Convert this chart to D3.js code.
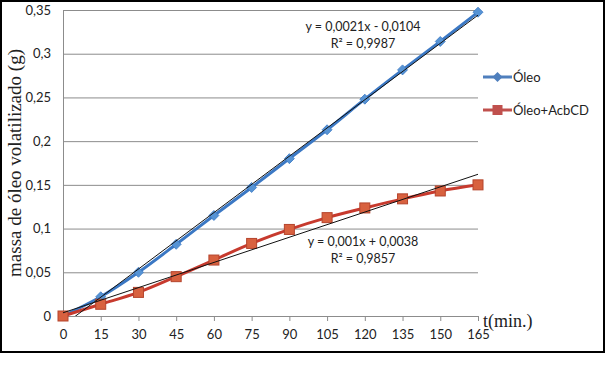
<!DOCTYPE html>
<html>
<head>
<meta charset="utf-8">
<script src="https://cdn.jsdelivr.net/npm/d3@7"></script>
<style>
  body { margin: 0; background: #fff; }
  svg text { font-family: Lato, "Open Sans", sans-serif; fill: #222; }
  .serif { font-family: "Liberation Serif", "Times New Roman", serif !important; }
  .grid line { stroke: #8c8c8c; }
</style>
</head>
<body>
<svg width="606" height="371"></svg>
<script>
// tempo (min) e massa volatilizada (g)
var tempos = [0, 15, 30, 45, 60, 75, 90, 105, 120, 135, 150, 165];
var oleo = [0, 0.022, 0.050, 0.082, 0.115, 0.147, 0.180, 0.213, 0.248, 0.2815, 0.314, 0.3475];
var oleoAcbCD = [0, 0.0134, 0.027, 0.045, 0.064, 0.083, 0.099, 0.1125, 0.1236, 0.134, 0.143, 0.150];
var yTicks = [0, 0.05, 0.1, 0.15, 0.2, 0.25, 0.3, 0.35];
var seriesNames = ["Óleo", "Óleo+AcbCD"];
var equations = [["y = 0,0021x - 0,0104", "R² = 0,9987"], ["y = 0,001x + 0,0038", "R² = 0,9857"]];

var svg = d3.select("svg"),
    margin = {top: 10, left: 63},
    width = 415,
    height = 306;

var fmt = function(d) { return d === 0 ? "0" : String(d).replace(".", ","); };

var x = d3.scaleLinear().domain([0, 165]).range([0, width]),
    y = d3.scaleLinear().domain([0, 0.35]).range([height, 0]);

// moldura
svg.append("rect")
    .attr("x", 1).attr("y", 1).attr("width", 603).attr("height", 351)
    .attr("fill", "none").attr("stroke", "#000").attr("stroke-width", 2);

var g = svg.append("g")
    .attr("transform", "translate(" + margin.left + "," + margin.top + ")");

svg.append("clipPath").attr("id", "plot")
  .append("rect")
    .attr("x", margin.left).attr("y", margin.top)
    .attr("width", width).attr("height", height);

// grade horizontal
g.append("g")
    .attr("class", "grid")
    .call(d3.axisLeft(y).tickValues(yTicks).tickSize(-width).tickFormat(""))
    .call(function(s) { s.select(".domain").remove(); });

// eixo y
var yAxis = g.append("g")
    .call(d3.axisLeft(y).tickValues(yTicks).tickSize(0).tickPadding(12).tickFormat(fmt));
yAxis.select(".domain").attr("stroke", "#8c8c8c");
yAxis.selectAll("text").style("font-size", "13px").attr("fill", "#222");

// eixo x
var xAxis = g.append("g")
    .attr("transform", "translate(0," + height + ")")
    .call(d3.axisBottom(x).tickValues(tempos).tickSize(5).tickSizeOuter(0).tickPadding(9).tickFormat(d3.format("d")));
xAxis.select(".domain").attr("stroke", "#8c8c8c");
xAxis.selectAll(".tick line").attr("stroke", "#8c8c8c");
xAxis.selectAll("text").style("font-size", "13px").attr("fill", "#222");

// títulos
svg.append("text")
    .attr("class", "serif")
    .attr("transform", "translate(21,163) rotate(-90)")
    .attr("text-anchor", "middle")
    .style("font-size", "19px")
    .attr("fill", "#000")
    .text("massa de óleo volatilizado (g)");

svg.append("text")
    .attr("class", "serif")
    .attr("x", 483).attr("y", 327)
    .style("font-size", "18px")
    .attr("fill", "#000")
    .text("t(min.)");

var series = [
    {name: seriesNames[0], values: oleo, line: "#3b78c4", fill: "#5693d4", stroke: "#3b78c4", legLine: "#4f7fbd"},
    {name: seriesNames[1], values: oleoAcbCD, line: "#c73a2e", fill: "#d8613f", stroke: "#b5442c", legLine: "#c0504d"}
];

// linhas de tendência (mínimos quadrados)
series.forEach(function(s) {
    var pts = tempos.map(function(t, i) { return [t, s.values[i]]; });
    var mx = d3.mean(pts, function(p) { return p[0]; }),
        my = d3.mean(pts, function(p) { return p[1]; });
    var b = d3.sum(pts, function(p) { return (p[0] - mx) * (p[1] - my); }) /
            d3.sum(pts, function(p) { return (p[0] - mx) * (p[0] - mx); });
    var a = my - b * mx;
    svg.append("line")
        .attr("clip-path", "url(#plot)")
        .attr("x1", margin.left + x(0)).attr("y1", margin.top + y(a))
        .attr("x2", margin.left + x(165)).attr("y2", margin.top + y(a + b * 165))
        .attr("stroke", "#111").attr("stroke-width", 1);
});

var line = d3.line()
    .curve(d3.curveMonotoneX)
    .x(function(d, i) { return x(tempos[i]); })
    .y(function(d) { return y(d); });

series.forEach(function(s, k) {
    g.append("path")
        .datum(s.values)
        .attr("fill", "none")
        .attr("stroke", s.line)
        .attr("stroke-width", 3)
        .attr("d", line);
});

// marcadores
g.selectAll(".diamond")
    .data(oleo)
    .enter().append("path")
        .attr("class", "diamond")
        .attr("transform", function(d, i) { return "translate(" + x(tempos[i]) + "," + y(d) + ")"; })
        .attr("d", "M0,-5L5,0L0,5L-5,0Z")
        .attr("fill", series[0].fill)
        .attr("stroke", series[0].stroke)
        .attr("stroke-width", 0.8);

g.selectAll(".square")
    .data(oleoAcbCD)
    .enter().append("rect")
        .attr("class", "square")
        .attr("x", function(d, i) { return x(tempos[i]) - 5; })
        .attr("y", function(d) { return y(d) - 5; })
        .attr("width", 10).attr("height", 10)
        .attr("fill", series[1].fill)
        .attr("stroke", series[1].stroke)
        .attr("stroke-width", 1);

// equações
var eqPos = [[363, 31], [363, 246]];
equations.forEach(function(eq, k) {
    eq.forEach(function(t, j) {
        svg.append("text")
            .attr("x", eqPos[k][0]).attr("y", eqPos[k][1] + j * 17)
            .attr("text-anchor", "middle")
            .style("font-size", "12.5px")
            .text(t);
    });
});

// legenda
var legY = [77, 110];
series.forEach(function(s, k) {
    var lg = svg.append("g").attr("transform", "translate(483," + legY[k] + ")");
    lg.append("line")
        .attr("x1", 0).attr("x2", 29)
        .attr("stroke", s.legLine).attr("stroke-width", 3);
    if (k === 0) {
        lg.append("path").attr("d", "M14.5,-5L19.5,0L14.5,5L9.5,0Z").attr("fill", s.legLine);
    } else {
        lg.append("rect").attr("x", 9.5).attr("y", -5).attr("width", 10).attr("height", 10).attr("fill", s.legLine);
    }
    lg.append("text")
        .attr("x", 30).attr("y", 4.5)
        .style("font-size", "13px")
        .text(s.name);
});
</script>
</body>
</html>
